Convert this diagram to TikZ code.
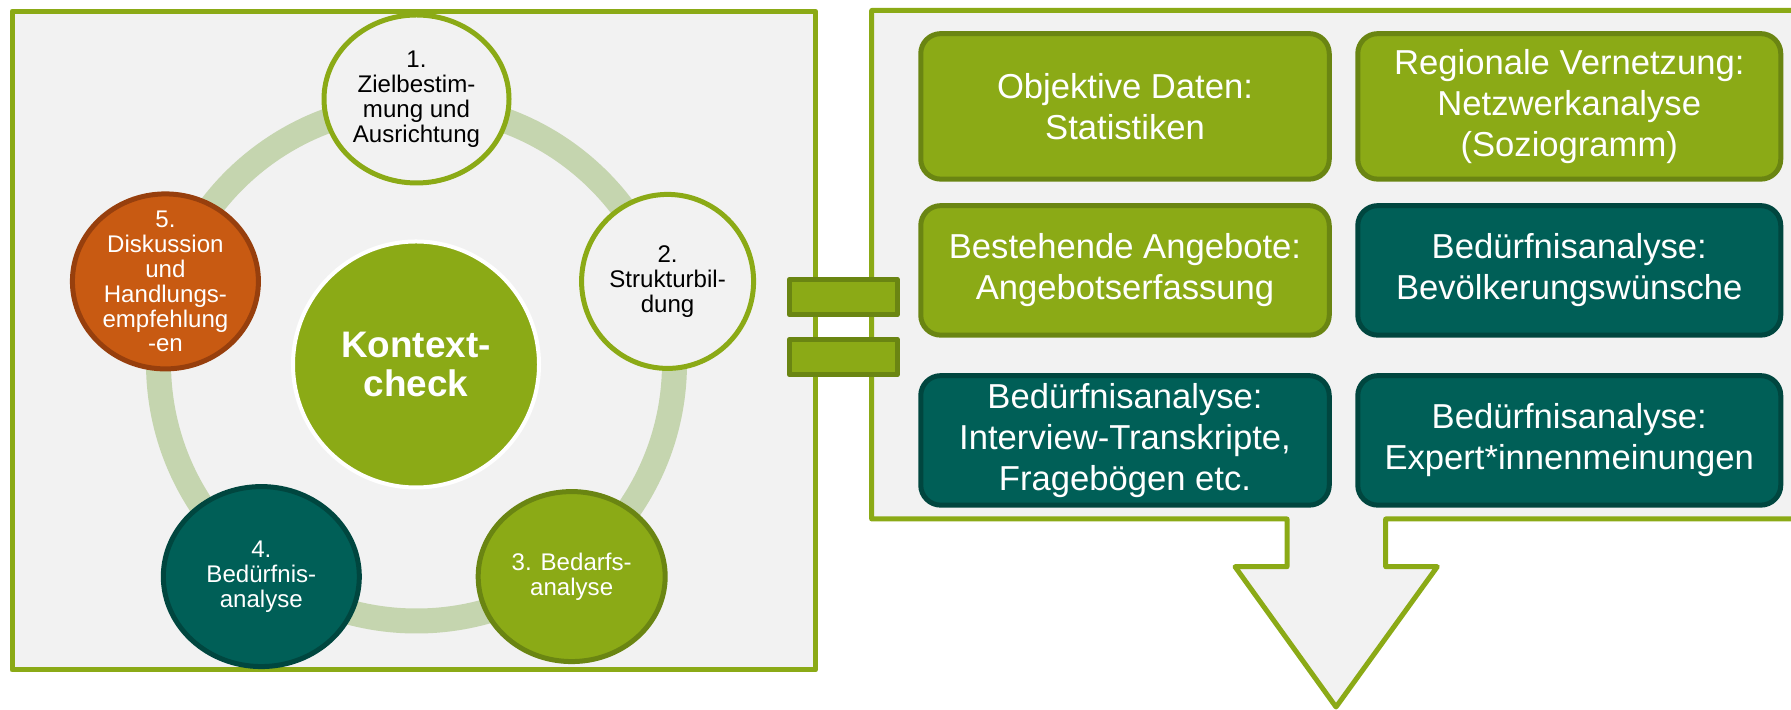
\documentclass[tikz,border=0pt]{standalone}
\usepackage{fontspec}
\setmainfont{Liberation Sans}
\usetikzlibrary{positioning,calc,shapes.geometric}

\definecolor{kgreen}{HTML}{8BAA16}
\definecolor{kgreendark}{HTML}{6A8512}
\definecolor{kteal}{HTML}{005F57}
\definecolor{ktealdark}{HTML}{00463F}
\definecolor{korange}{HTML}{C85A12}
\definecolor{korangedark}{HTML}{973F0D}
\definecolor{kring}{HTML}{C5D5AF}
\definecolor{kgray}{HTML}{F2F2F2}

\begin{document}
\begin{tikzpicture}
    [x=0.2mm, y=0.2mm,
    line join=round,
    panel/.style={draw=kgreen, fill=kgray, line width=1mm},
    ring/.style={draw=kring, line width=5mm},
    every label/.style={
      align=center,
      font=\fontsize{13.7}{14.2}\selectfont},
    phase/.style={
      ellipse,
      inner sep=0pt,
      line width=1mm},
    openphase/.style={phase, draw=kgreen, fill=kgray},
    greenphase/.style={phase, draw=kgreendark, fill=kgreen},
    tealphase/.style={phase, draw=ktealdark, fill=kteal},
    orangephase/.style={phase, draw=korangedark, fill=korange},
    hub/.style={
      circle,
      minimum size=49.2mm,
      align=center,
      draw=white,
      fill=kgreen,
      line width=0.8mm,
      text=white,
      font=\bfseries\fontsize{21}{21.9}\selectfont},
    box/.style={
      rectangle,
      rounded corners=4mm,
      align=center,
      inner sep=0.5mm,
      line width=1mm,
      minimum width=81.7mm,
      minimum height=25.9mm,
      text=white,
      font=\fontsize{19.7}{23.3}\selectfont},
    greenbox/.style={box, draw=kgreendark, fill=kgreen},
    tealbox/.style={box, draw=ktealdark, fill=kteal},
    wide/.style={minimum width=84.6mm},
    bar/.style={
      rectangle,
      inner sep=0pt,
      minimum width=21.6mm,
      minimum height=7.1mm,
      draw=kgreendark,
      fill=kgreen,
      line width=1mm}
    ]
    \useasboundingbox (0,0) rectangle (1791,710);

    % two panels
    \draw[panel] (12,40) rectangle (815.5,698.7);
    \draw[panel] (1800,699.5) -- (871.7,699.5) -- (871.7,191) -- (1287,191)
      -- (1287,143.3) -- (1235,143.3) -- (1336,3) -- (1437.3,143.3)
      -- (1385.7,143.3) -- (1385.7,191) -- (1800,191);

    % cycle
    \coordinate (m) at (416.5,347);
    \draw[ring] (m) circle [radius=51.6mm];
    \node (0) [hub] at (416,345.5) {Kontext-\\check};
    \node (1) [openphase, minimum width=37mm, minimum height=33.6mm]
      [label={[black]center:{1.\\Zielbestim-\\mung und\\Ausrichtung}}] at ($(m)+(90:264)$) {};
    \node (2) [openphase, minimum width=34.4mm, minimum height=34.8mm]
      [label={[black]center:{2.\\Strukturbil-\\dung}}] at ($(m)+(18:264)$) {};
    \node (3) [greenphase, minimum width=37.4mm, minimum height=34mm]
      [label={[white]center:{3. Bedarfs-\\analyse}}] at ($(m)+(-54:264)$) {};
    \node (4) [tealphase, minimum width=39.2mm, minimum height=36mm]
      [label={[white]center:{4.\\Bedürfnis-\\analyse}}] at ($(m)+(-126:264)$) {};
    \node (5) [orangephase, minimum width=37.2mm, minimum height=35mm]
      [label={[white]center:{5.\\Diskussion\\und\\Handlungs-\\empfehlung\\-en}}] at ($(m)+(162:264)$) {};

    % data sources
    \node (a) [greenbox, minimum height=29.1mm] at (1125,603.6) {Objektive Daten:\\Statistiken};
    \node (b) [right=4.7mm of a] [greenbox, wide, minimum height=29.1mm] {Regionale Vernetzung:\\Netzwerkanalyse\\(Soziogramm)};
    \node (c) [below=4.3mm of a] [greenbox] {Bestehende Angebote:\\Angebotserfassung};
    \node (d) [right=4.7mm of c] [tealbox, wide] {Bedürfnisanalyse:\\Bevölkerungswünsche};
    \node (e) [below=7.1mm of c] [tealbox] {Bedürfnisanalyse:\\Interview-Transkripte,\\Fragebögen etc.};
    \node (f) [right=4.7mm of e] [tealbox, wide] {Bedürfnisanalyse:\\Expert*innenmeinungen};

    % equals sign
    \node (e1) [bar] at (843.3,413) {};
    \node (e2) [below=3.9mm of e1] [bar] {};
\end{tikzpicture}
\end{document}
